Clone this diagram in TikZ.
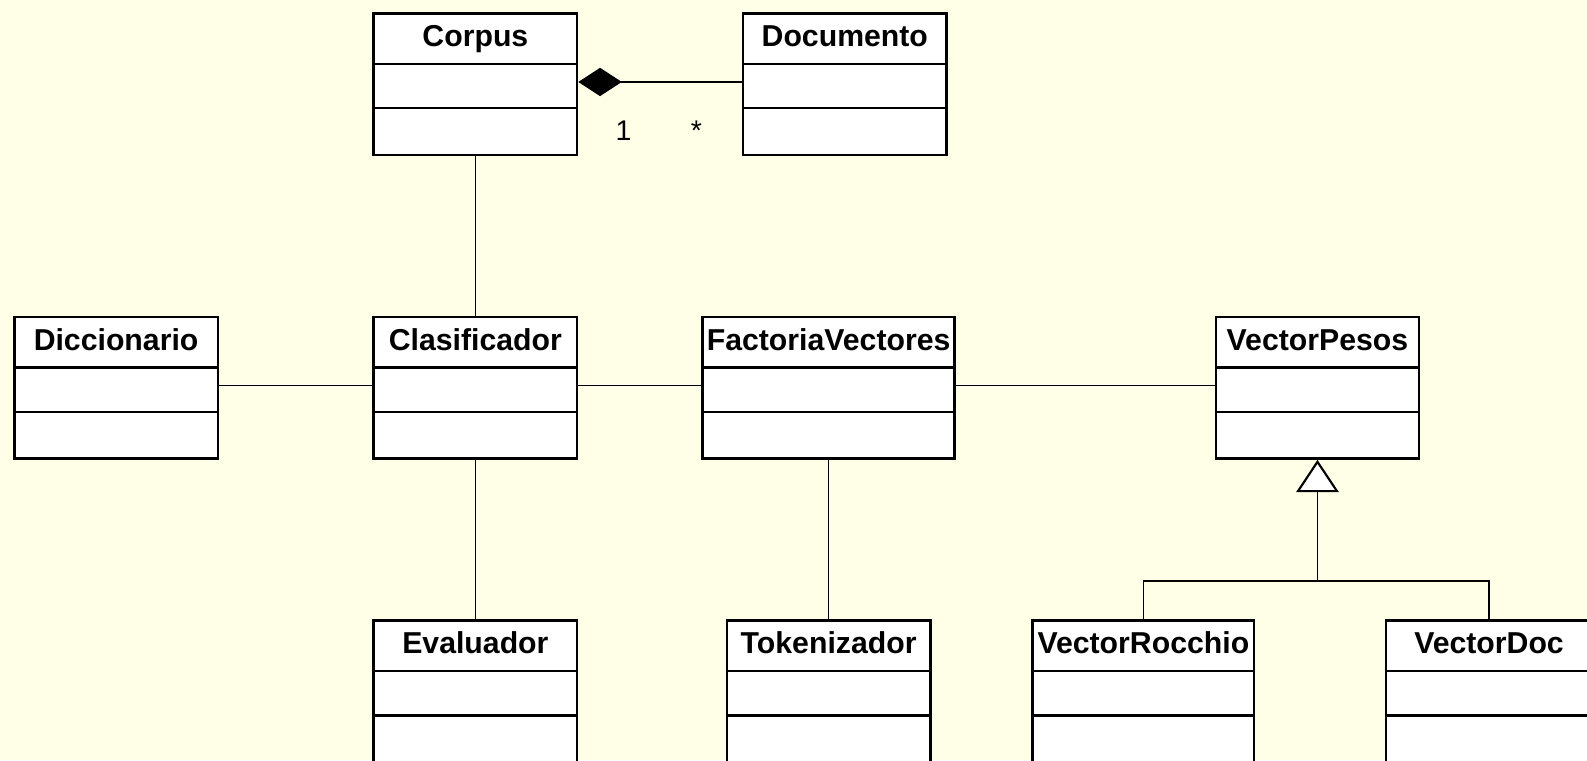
\documentclass[tikz,border=0pt]{standalone}
\usepackage{fontspec}
\setmainfont{Liberation Sans}
\usetikzlibrary{arrows.meta,calc}
\definecolor{bgyellow}{RGB}{255,255,232}
\tikzset{
  px/.style={x=0.02cm,y=-0.02cm},
  classbox/.style={draw=black, line width=1.35pt, fill=white, rectangle, inner sep=0pt, minimum height=2.8cm},
  sepline/.style={draw=black, line width=1.35pt},
  classname/.style={font=\fontsize{17}{20}\selectfont\bfseries, inner sep=0pt, anchor=base},
  assoc/.style={draw=black, line width=0.85pt},
  mult/.style={font=\fontsize{16}{19}\selectfont, inner sep=0pt, anchor=base},
}
% #1 name, #2 left, #3 top, #4 right, #5 label
\newcommand{\umlclass}[5]{%
  \node[classbox, minimum width={(#4-#2)*0.02cm}, anchor=north west] (#1) at (#2,#3) {};
  \draw[sepline] ([yshift=-1.02cm]#1.north west) -- ([yshift=-1.02cm]#1.north east);
  \draw[sepline] ([yshift=-1.9cm]#1.north west) -- ([yshift=-1.9cm]#1.north east);
  \node[classname] (#1-title) at ([yshift=-0.68cm]#1.north) {#5};
}
\begin{document}
\begin{tikzpicture}[px]
  \fill[bgyellow] (0,0) rectangle (1568,751);
  \useasboundingbox (0,0) rectangle (1568,751);
  \begin{scope}
  \clip (0,0) rectangle (1568,751);
  \umlclass{corpus}{368}{12}{569}{Corpus}
  \umlclass{documento}{733}{12}{934}{Documento}
  \umlclass{diccionario}{13}{312}{214}{Diccionario}
  \umlclass{clasificador}{368}{312}{569}{Clasificador}
  \umlclass{factoria}{693}{312}{942}{FactoriaVectores}
  \umlclass{vpesos}{1200}{312}{1401}{VectorPesos}
  \umlclass{evaluador}{368}{612}{569}{Evaluador}
  \umlclass{tokenizador}{717}{612}{918}{Tokenizador}
  \umlclass{vrocchio}{1019}{612}{1238}{VectorRocchio}
  \umlclass{vdoc}{1368}{612}{1572}{VectorDoc}

  % composition Corpus <>-- Documento
  \draw[assoc, -{Diamond[length=0.86cm, width=0.56cm, fill=black]}]
    ([yshift=-1.38cm]documento.north west) -- ([yshift=-1.38cm]corpus.north east);
  \node[mult] (m1) at (616,139) {1};
  \node[mult] (m2) at (688,139) {*};

  % associations
  \draw[assoc] (corpus.south) -- (clasificador.north);
  \draw[assoc] ([yshift=-1.38cm]diccionario.north east) -- ([yshift=-1.38cm]clasificador.north west);
  \draw[assoc] ([yshift=-1.38cm]clasificador.north east) -- ([yshift=-1.38cm]factoria.north west);
  \draw[assoc] ([yshift=-1.38cm]factoria.north east) -- ([yshift=-1.38cm]vpesos.north west);
  \draw[assoc] (clasificador.south) -- (evaluador.north);
  \draw[assoc] (factoria.south -| tokenizador.north) -- (tokenizador.north);

  % generalization
  \coordinate (gen) at (vpesos.south |- 0,574);
  \draw[assoc] (vrocchio.north) |- (gen) -| (vdoc.north);
  \draw[assoc, -{Triangle[open, length=0.64cm, width=0.84cm, fill=white, line width=1.2pt]}] (gen) -- (vpesos.south);
  \end{scope}
\end{tikzpicture}
\end{document}
